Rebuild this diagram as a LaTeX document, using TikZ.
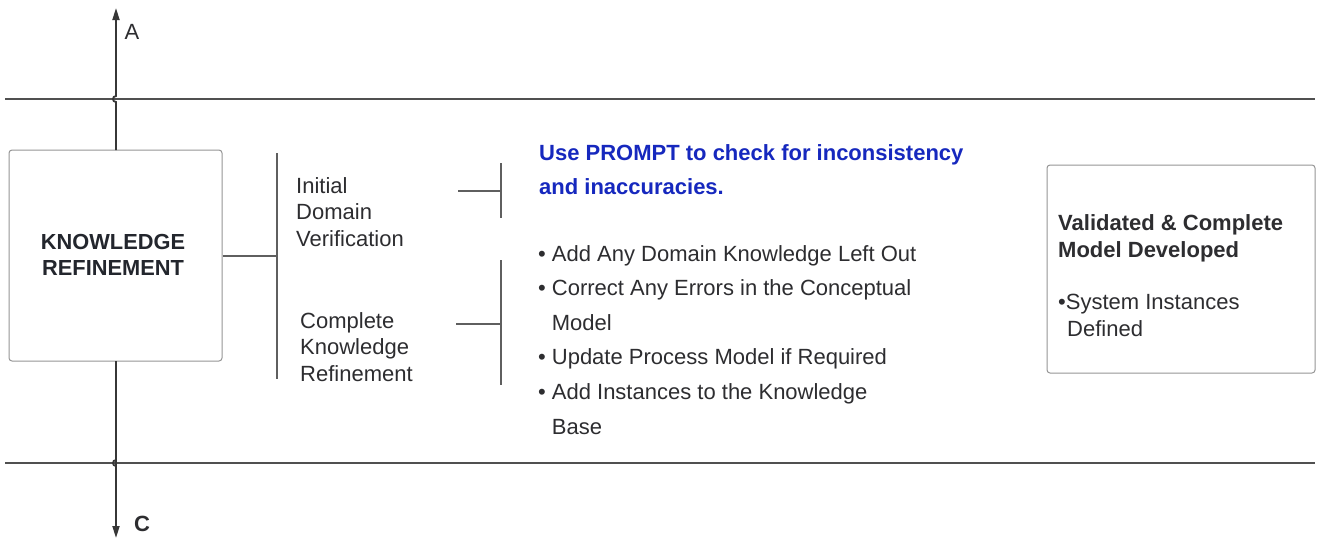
\documentclass[tikz,border=0pt]{standalone}
\usepackage{fontspec}
\setmainfont{Liberation Sans}
\usetikzlibrary{arrows.meta}
\definecolor{lanegray}{RGB}{80,80,80}
\definecolor{boxgray}{RGB}{150,150,150}
\definecolor{brkgray}{RGB}{95,95,95}
\definecolor{arrgray}{RGB}{55,55,55}
\definecolor{textdark}{RGB}{45,45,48}
\definecolor{promptblue}{RGB}{22,40,190}
\begin{document}
\begin{tikzpicture}[x=1pt,y=-1pt,
  box/.style={draw=boxgray, line width=1pt, rounded corners=3pt, fill=white, inner sep=0pt},
  lane/.style={draw=lanegray, line width=1.6pt},
  brk/.style={draw=brkgray, line width=1.2pt},
  arr/.style={draw=arrgray, line width=1.8pt, -{Triangle[length=12pt,width=7pt]}},
  txt/.style={font=\fontsize{22}{26.5}\selectfont, text=textdark, inner sep=0pt, anchor=base west, align=left},
  btxt/.style={txt, font=\fontsize{22}{26.5}\selectfont\bfseries}
]
\useasboundingbox (0,0) rectangle (1319,539);
\fill[white] (0,0) rectangle (1319,539);

% lanes
\coordinate (l1a) at (5,99);
\coordinate (l1b) at (1315,99);
\coordinate (l2a) at (5,463);
\coordinate (l2b) at (1315,463);
\draw[lane] (l1a) -- (l1b);
\draw[lane] (l2a) -- (l2b);

% left box
\node[box, minimum width=213pt, minimum height=211pt] (kr) at (115.5,255.5) {};
\node[btxt, anchor=center, align=center, font=\fontsize{21.8}{26}\selectfont\bfseries, text={rgb,255:red,35;green,38;blue,45}] (krt) at (113,255) {KNOWLEDGE\\REFINEMENT};

% vertical arrows
\coordinate (atop) at (116,8);
\coordinate (cbot) at (116,538);
\draw[arr] (116,150) -- (116,102) .. controls (112,102) and (112,96) .. (116,96) -- (atop);
\draw[arr] (116,361) -- (116,466) .. controls (112,466) and (112,460) .. (116,460) -- (116,466) -- (cbot);
\node[txt, anchor=center] (A) at (132,32) {A};
\node[btxt, anchor=center] (C) at (142,524) {C};

% bracket 1
\coordinate (b1t) at (277,153);
\coordinate (b1b) at (277,379);
\coordinate (b1m) at (277,256);
\draw[brk] (kr.east |- b1m) -- (b1m);
\draw[brk] (b1t) -- (b1b);

\node[txt] (idv) at (296,246) {Initial\\Domain\\Verification};
\node[txt] (ckr) at (300,381) {Complete\\Knowledge\\Refinement};

% bracket 2
\coordinate (s1a) at (458,191);
\coordinate (s1b) at (501,191);
\coordinate (v1t) at (501,163);
\coordinate (v1b) at (501,218);
\draw[brk] (s1a) -- (s1b);
\draw[brk] (v1t) -- (v1b);

% bracket 3
\coordinate (s2a) at (456,324);
\coordinate (s2b) at (501,324);
\coordinate (v2t) at (501,260);
\coordinate (v2b) at (501,385);
\draw[brk] (s2a) -- (s2b);
\draw[brk] (v2t) -- (v2b);

% blue text
\node[btxt, text=promptblue, font=\fontsize{22}{34}\selectfont\bfseries] (prompt) at (539,194) {Use PROMPT to check for inconsistency\\and inaccuracies.};

% bullet list
\node[txt, font=\fontsize{22}{34.6}\selectfont] (list) at (538,261) {%
\begin{tabular}[t]{@{}l@{\hspace{6pt}}l@{}}
\textbullet & Add Any Domain Knowledge Left Out\\
\textbullet & Correct Any Errors in the Conceptual\\
 & Model\\
\textbullet & Update Process Model if Required\\
\textbullet & Add Instances to the Knowledge\\
 & Base
\end{tabular}};

% right box
\node[box, minimum width=268pt, minimum height=208pt] (vc) at (1181,269) {};
\node[btxt] (vct) at (1058,257) {Validated \& Complete\\Model Developed};
\node[txt] (vcs) at (1058,336) {\textbullet System Instances\\\hspace*{9pt}Defined};

\end{tikzpicture}
\end{document}
